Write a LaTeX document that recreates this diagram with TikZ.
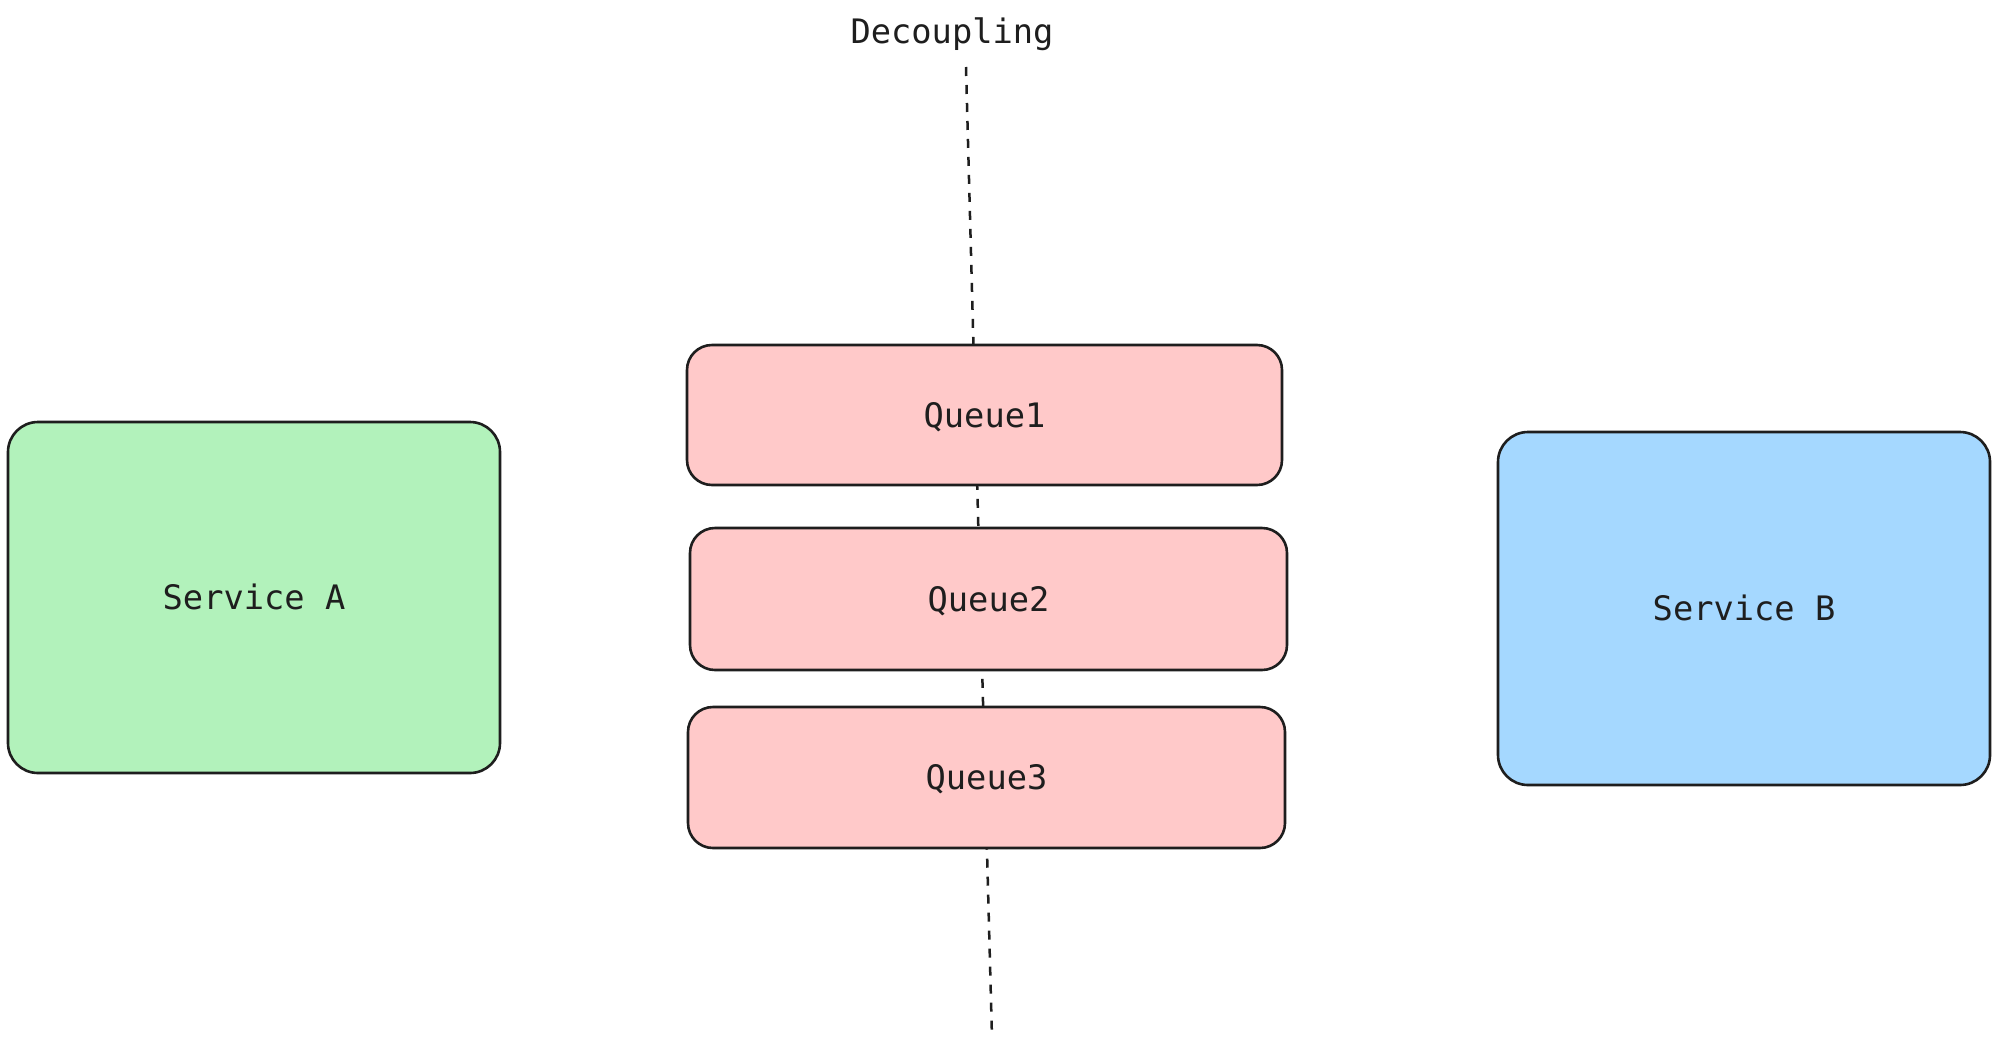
\documentclass[tikz,border=0pt]{standalone}
\usepackage{fontspec}
\setmonofont{DejaVu Sans Mono}
\definecolor{ink}{HTML}{1E1E1E}
\definecolor{greenfill}{HTML}{B2F2BB}
\definecolor{pinkfill}{HTML}{FFC9C9}
\definecolor{bluefill}{HTML}{A5D8FF}
\tikzset{
  labeltext/.style={font=\ttfamily\fontsize{33.7}{40}\selectfont, text=ink},
  boxshape/.style={labeltext, draw=ink, line width=2.6pt, rectangle, rounded corners=27pt,
    inner sep=0pt, text height=24.5pt, text depth=0pt},
  servicebox/.style={boxshape, rounded corners=30pt},
  queuebox/.style={boxshape, fill=pinkfill, rounded corners=25pt},
  divider/.style={draw=ink, line width=2.5pt, dash pattern=on 9pt off 9pt},
}
\begin{document}
\begin{tikzpicture}[x=1pt,y=-1pt]
\useasboundingbox[fill=white] (0,0) rectangle (1999,1047);
\coordinate (dtop) at (966,67);
\coordinate (dbot) at (992,1038);
\draw[divider] (dtop) -- (dbot);
\node[labeltext, anchor=base] (dec) at (952,43) {Decoupling};
\node[servicebox, fill=greenfill, minimum width=492pt, minimum height=351pt] (sa) at (254,597.5) {Service A};
\node[servicebox, fill=bluefill, minimum width=492pt, minimum height=353pt] (sb) at (1744,608.5) {Service B};
\node[queuebox, minimum width=595pt, minimum height=140pt] (q1) at (984.5,415) {Queue1};
\node[queuebox, minimum width=597pt, minimum height=142pt] (q2) at (988.5,599) {Queue2};
\node[queuebox, minimum width=597pt, minimum height=141pt] (q3) at (986.5,777.5) {Queue3};
\end{tikzpicture}
\end{document}
